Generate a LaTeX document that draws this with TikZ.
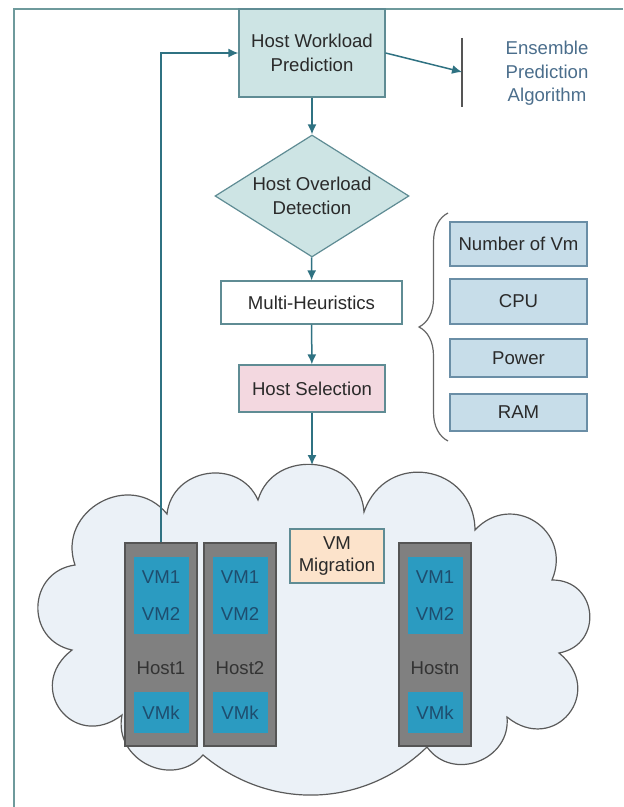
\documentclass[tikz,border=0pt]{standalone}
\usepackage{fontspec}
\setmainfont{Liberation Sans}
\usetikzlibrary{arrows.meta,shapes.geometric,decorations.pathreplacing}

\definecolor{framec}{HTML}{6E9A9C}
\definecolor{arrowc}{HTML}{2F7282}
\definecolor{predfill}{HTML}{CDE4E4}
\definecolor{boxline}{HTML}{5F8C94}
\definecolor{boxtext}{HTML}{2A2A2A}
\definecolor{pinkfill}{HTML}{F3D8E0}
\definecolor{paramfill}{HTML}{C7DDE9}
\definecolor{paramline}{HTML}{6A8EA6}
\definecolor{cloudfill}{HTML}{EBF1F7}
\definecolor{cloudline}{HTML}{5A5A5A}
\definecolor{hostfill}{HTML}{808080}
\definecolor{hostline}{HTML}{555555}
\definecolor{hosttext}{HTML}{333333}
\definecolor{vmfill}{HTML}{2B9BC1}
\definecolor{vmtext}{HTML}{1E4D6E}
\definecolor{migfill}{HTML}{FCE3CB}
\definecolor{enstext}{HTML}{4B6E8C}
\definecolor{bracec}{HTML}{666666}

\begin{document}
\begin{tikzpicture}[x=0.5pt,y=-0.5pt,font=\fontsize{9.3}{11.7}\selectfont]
      \useasboundingbox (0,0) rectangle (623,807);

      % frame and cloud
      \draw[draw=framec, line width=0.6pt] (14,807) -- (14,9) -- (623,9);
      \draw[draw=cloudline, fill=cloudfill, line width=0.6pt]
        (75,565) to[bend left=80, looseness=1.4] (167,514)
        to[bend left=75, looseness=1.3] (258,500)
        to[bend left=80, looseness=1.35] (364,512)
        to[bend left=80, looseness=1.5] (475,530)
        to[bend left=80, looseness=1.5] (552,580)
        to[bend left=85, looseness=1.6] (559,653)
        to[bend left=90, looseness=1.9] (507,717)
        to[bend left=75, looseness=1.3] (427,747)
        to[bend left=42] (203,755)
        to[bend left=75, looseness=1.3] (122,715)
        to[bend left=90, looseness=1.9] (72,650)
        to[bend left=80, looseness=1.45] (75,565) -- cycle;

      \begin{scope}[every node/.style={draw=boxline, line width=0.6pt, text=boxtext, inner sep=0pt, align=center}]
        \node[fill=predfill, minimum width=73pt, minimum height=44pt] (pred) at (312,53) {Host Workload\\Prediction};
        \node[diamond, aspect=1.6, fill=predfill, minimum width=97pt, minimum height=61pt] (detect) at (312,196) {Host Overload\\Detection};
        \node[fill=white, minimum width=90.5pt, minimum height=21.5pt] (multi) at (311.5,302.5) {Multi-Heuristics};
        \node[fill=pinkfill, minimum width=73pt, minimum height=23.5pt] (select) at (312,388.5) {Host Selection};
        \node[fill=migfill, minimum width=47pt, minimum height=27pt] (mig) at (337,556) {VM\\[-1pt]Migration};
      \end{scope}

      \begin{scope}[every node/.style={draw=paramline, fill=paramfill, line width=0.6pt, text=boxtext, inner sep=0pt, minimum width=68.5pt}]
        \node[minimum height=22pt] (num) at (518.5,244) {Number of Vm};
        \node[minimum height=22.5pt] (cpu) at (518.5,301.5) {CPU};
        \node[minimum height=19pt] (power) at (518.5,358) {Power};
        \node[minimum height=18.5pt] (ram) at (518.5,412.5) {RAM};
      \end{scope}

      \node[text=enstext, align=center, inner sep=0pt] (ens) at (547,73.5) {Ensemble\\Prediction\\Algorithm};

      \begin{scope}[every node/.style={draw=hostline, fill=hostfill, line width=0.6pt, minimum width=36pt, minimum height=101.5pt, inner sep=0pt}]
        \node (h1) at (161,644.5) {};
        \node (h2) at (240,644.5) {};
        \node (hn) at (435,644.5) {};
      \end{scope}

      \begin{scope}[every node/.style={fill=vmfill, text=vmtext, inner sep=0pt, minimum width=27.5pt, align=center}]
        \node[minimum height=38.5pt] (v1) at (161,595.5) {VM1\\[6.8pt]VM2};
        \node[minimum height=38.5pt] (v2) at (240,595.5) {VM1\\[6.8pt]VM2};
        \node[minimum height=38.5pt] (vn) at (435,595.5) {VM1\\[6.8pt]VM2};
        \node[minimum height=20.5pt] (k1) at (161,712.5) {VMk};
        \node[minimum height=20.5pt] (k2) at (240,712.5) {VMk};
        \node[minimum height=20.5pt] (kn) at (435,712.5) {VMk};
      \end{scope}

      \begin{scope}[every node/.style={text=hosttext, inner sep=0pt}]
        \node (l1) at (161,668) {Host1};
        \node (l2) at (240,668) {Host2};
        \node (ln) at (435,668) {Hostn};
      \end{scope}

      \coordinate (et) at (462,38);
      \coordinate (eb) at (462,107);
      \coordinate (ea) at (462,72);
      \coordinate (ctop) at (312,465);
      \coordinate (bt) at (448,213);
      \coordinate (bb) at (448,441);

      \draw[draw=hostline, line width=0.6pt] (et) -- (eb);
      \draw[draw=bracec, line width=0.6pt, decorate, decoration={brace, amplitude=14.5pt}] (bb) -- (bt);

      \begin{scope}[every edge/.style={draw=arrowc, line width=0.75pt, -{Latex[length=5pt,width=4.5pt]}}]
        \path (pred)  edge (detect);
        \path (detect) edge (multi);
        \path (multi) edge (select);
        \path (select) edge (ctop);
        \path (pred.east) edge (ea);
        \path (h1.north) edge[to path={|- (\tikztotarget)}] (pred.west);
      \end{scope}

    \end{tikzpicture}
\end{document}
